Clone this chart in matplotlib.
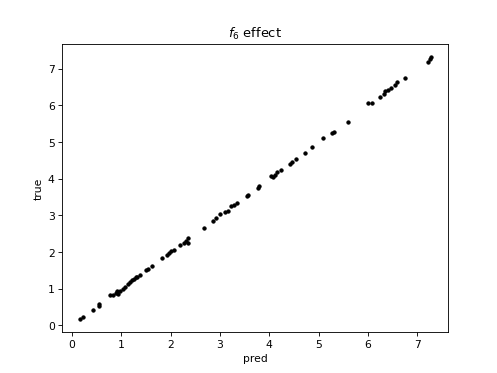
import matplotlib
matplotlib.use("Agg")
import matplotlib.pyplot as plt

# predicted vs true values
pred = [0.16, 0.23, 0.42, 0.55, 0.55, 0.78, 0.84, 0.89, 0.92, 0.94, 0.97,
        1.03, 1.08, 1.14, 1.17, 1.21, 1.26, 1.30, 1.32, 1.39, 1.50, 1.55,
        1.62, 1.82, 1.92, 1.96, 2.01, 2.07, 2.19, 2.28, 2.32, 2.36, 2.35,
        2.67, 2.86, 2.93, 3.00, 3.10, 3.17, 3.23, 3.28, 3.35, 3.54, 3.57,
        3.77, 3.79, 4.04, 4.08, 4.11, 4.15, 4.23, 4.42, 4.46, 4.54, 4.72,
        4.86, 5.09, 5.27, 5.31, 5.59, 6.01, 6.08, 6.24, 6.33, 6.35, 6.41,
        6.47, 6.55, 6.59, 6.76, 7.22, 7.25, 7.27]
true = [0.18, 0.24, 0.41, 0.54, 0.59, 0.82, 0.84, 0.89, 0.95, 0.87, 0.94,
        1.00, 1.05, 1.14, 1.18, 1.23, 1.26, 1.31, 1.33, 1.37, 1.50, 1.55,
        1.61, 1.83, 1.92, 1.98, 2.03, 2.05, 2.19, 2.25, 2.29, 2.38, 2.25,
        2.65, 2.85, 2.93, 3.03, 3.09, 3.13, 3.25, 3.28, 3.34, 3.52, 3.55,
        3.76, 3.80, 4.07, 4.05, 4.11, 4.18, 4.23, 4.40, 4.47, 4.55, 4.70,
        4.87, 5.10, 5.25, 5.29, 5.54, 6.07, 6.06, 6.23, 6.32, 6.39, 6.43,
        6.47, 6.57, 6.64, 6.74, 7.19, 7.26, 7.31]

fig = plt.figure(figsize=(6.4, 4.8), dpi=77.8)
plt.plot(pred, true, 'k.')
plt.title('$f_6$ effect')
plt.xlabel('pred')
plt.ylabel('true')
plt.savefig('out.png', dpi=77.8)
